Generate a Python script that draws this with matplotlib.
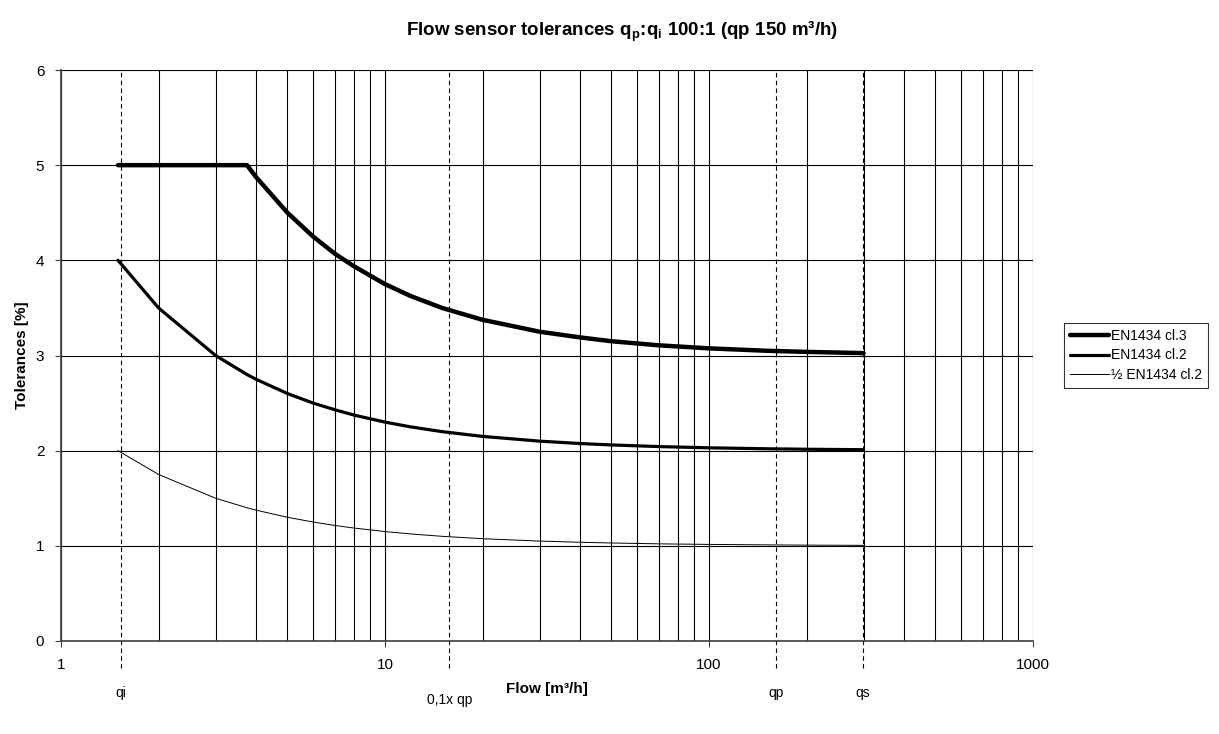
import matplotlib.pyplot as plt
from matplotlib.ticker import FixedLocator, NullFormatter

plt.rcParams['font.family'] = ['Liberation Sans', 'DejaVu Sans']

# flow values [m³/h] and tolerances [%]
flow = [1.5, 2, 3, 3.75, 4, 5, 6, 7, 8, 10, 12, 15, 20, 30, 40, 50, 70, 100, 150, 200, 300]
cl3 = [5.0, 5.0, 5.0, 5.0, 4.875, 4.5, 4.25, 4.07, 3.94, 3.75, 3.625, 3.5, 3.375, 3.25,
       3.19, 3.15, 3.107, 3.075, 3.05, 3.038, 3.025]
cl2 = [4.0, 3.5, 3.0, 2.8, 2.75, 2.6, 2.5, 2.43, 2.375, 2.3, 2.25, 2.2, 2.15, 2.1,
       2.075, 2.06, 2.043, 2.03, 2.02, 2.015, 2.01]
half_cl2 = [2.0, 1.75, 1.5, 1.4, 1.375, 1.3, 1.25, 1.214, 1.1875, 1.15, 1.125, 1.1, 1.075,
            1.05, 1.0375, 1.03, 1.021, 1.015, 1.01, 1.0075, 1.005]

# dashed marker lines (positions as drawn on the chart)
markers = [1.53, 15.8, 161, 298]
marker_labels = ["qi", "0,1x qp", "qp", "qs"]
marker_label_y = [-0.55, -0.62, -0.55, -0.55]

fig = plt.figure(figsize=(12.19, 7.34), dpi=100)
ax = fig.add_axes([61 / 1219, 93 / 734, 972 / 1219, 571 / 734])

ax.set_xscale("log")
ax.set_xlim(1, 1000)
ax.set_ylim(0, 6)

minor = [m * 10 ** e for e in range(3) for m in range(2, 10)]
ax.xaxis.set_major_locator(FixedLocator([1, 10, 100, 1000]))
ax.xaxis.set_minor_locator(FixedLocator(minor))
ax.xaxis.set_minor_formatter(NullFormatter())
ax.set_xticklabels(["1", "10", "100", "1000"])
ax.set_yticks(range(7))

ax.grid(True, which="both", axis="x", color="black", lw=0.8)
ax.grid(True, which="major", axis="y", color="black", lw=0.8)
ax.set_axisbelow(True)
ax.tick_params(which="major", direction="out", length=4, color="#404040",
               labelsize=11, pad=8)
ax.tick_params(which="minor", length=0)
for side in ["top", "right"]:
    ax.spines[side].set_visible(False)
for side in ["left", "bottom"]:
    ax.spines[side].set_color("#404040")
    ax.spines[side].set_linewidth(1.2)

# --- marker lines (extend below the axis) ---
for q, lab, ly in zip(markers, marker_labels, marker_label_y):
    ax.axvline(q, ymin=-0.048, ymax=1, color="black", lw=0.8, ls=(0, (4, 3)),
               clip_on=False, zorder=2)
    ax.text(q, ly, lab, ha="center", va="center", fontsize=10, clip_on=False)

ax.plot(flow, cl3, color="black", lw=3.2, solid_capstyle="round",
        label="EN1434 cl.3", zorder=4)
ax.plot(flow, cl2, color="black", lw=2.3, solid_capstyle="round",
        label="EN1434 cl.2", zorder=4)
ax.plot(flow, half_cl2, color="black", lw=0.7, label="½ EN1434 cl.2", zorder=4)

ax.set_xlabel("Flow [m³/h]", fontsize=11, fontweight="bold")
ax.xaxis.set_label_coords(0.5, -0.072)
ax.set_ylabel("Tolerances [%]", fontsize=11, fontweight="bold", labelpad=5)

fig.text(0.51, 0.957, r"Flow sensor tolerances q$_\mathregular{p}$:q$_\mathregular{i}$ 100:1 (qp 150 m³/h)",
         ha="center", va="center", fontsize=13.5, fontweight="bold")

leg = ax.legend(loc="center left", bbox_to_anchor=(1.032, 0.5), fontsize=10,
                frameon=True, fancybox=False, edgecolor="black",
                handlelength=2.8, handletextpad=0.2, borderpad=0.4,
                labelspacing=0.4, borderaxespad=0)
leg.get_frame().set_linewidth(0.8)

fig.savefig("out.png", dpi=100)
